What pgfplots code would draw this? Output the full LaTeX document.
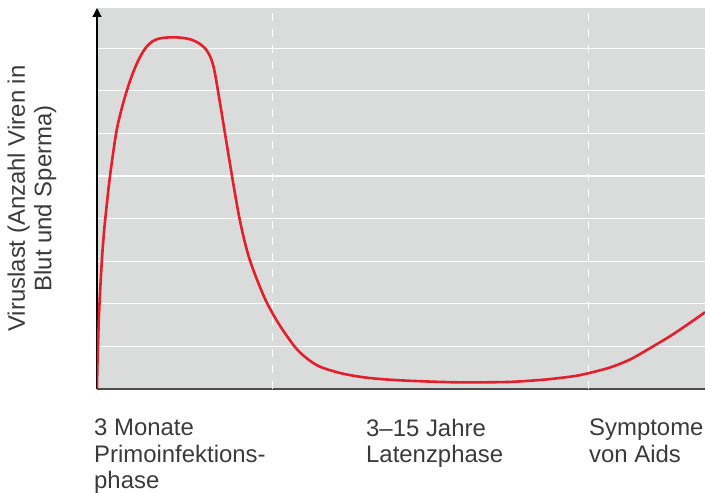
\documentclass[border=0pt]{standalone}
\usepackage{fontspec}
\setmainfont{Liberation Sans}
\usepackage{pgfplots}
\pgfplotsset{compat=1.18}
\usetikzlibrary{arrows.meta}
\definecolor{bggray}{HTML}{DADBDB}
\definecolor{curvered}{HTML}{E41E2B}
\definecolor{txt}{HTML}{3A3A3A}
\newcommand\lblfont{\fontsize{24}{26.5}\selectfont}
\begin{document}
\begin{tikzpicture}
\path[use as bounding box] (-97bp,-104bp) rectangle (608bp,389bp);
\begin{axis}[
  at={(0,0)}, anchor=south west,
  scale only axis, width=608bp, height=381bp,
  xmin=0, xmax=608, ymin=0, ymax=381,
  axis x line*=bottom, axis y line*=left,
  x axis line style={draw=black!70, line width=1.2bp, -},
  y axis line style={draw=black, line width=1.2bp, -{Triangle[width=9bp,length=9bp]}},
  axis background/.style={fill=bggray},
  ytick={42.6,85.2,127.8,170.4,213,255.6,298.2,340.8},
  yticklabels={},
  ymajorgrids,
  major grid style={white, line width=1.3bp},
  xtick={0,272,495},
  xticklabels={{3 Monate\\Primoinfektions-\\phase},{3–15 Jahre\\Latenzphase},{Symptome\\von Aids}},
  xticklabel style={anchor=north west, align=left, inner sep=0pt, xshift=-3bp, yshift=-30bp, font=\lblfont, text=txt},
  major tick length=0pt,
  tick style={draw=none},
  ylabel={Viruslast (Anzahl Viren in\\Blut und Sperma)},
  ylabel style={at={(axis description cs:-0.107,0.5)}, anchor=center, align=center, font=\lblfont, text=txt, inner sep=0pt},
  clip=true,
]
\draw[white, line width=1.3bp, dash pattern=on 8bp off 8bp] (axis cs:175.5,0) -- (axis cs:175.5,381);
\draw[white, line width=1.3bp, dash pattern=on 8bp off 8bp] (axis cs:491.5,0) -- (axis cs:491.5,381);
\addplot[curvered, line width=2.6bp, smooth] coordinates {
(0,0) (0.3,19) (1,44) (2,74) (3.3,101) (5,131) (7,157) (9,177) (13,213) (19,255)
(23.8,277) (29.7,298) (34,310.8) (38,321.2) (42,330) (46,337.2) (50,342.8)
(55,347.3) (60,349.8) (66,351.1) (72,351.6) (77,351.7)
(84,351.3) (90,350.4) (95,349.1) (100,346.9) (104,344.3) (108,340.7) (111,336.5)
(114,330.5) (116.5,322.5) (118.8,311) (121,298) (124.5,277) (128,255.5)
(131.5,234) (135,213) (138.4,193) (142,173) (146.8,151) (152.5,130)
(160.5,108) (170,86) (182.5,64) (198,42) (210,30.5) (223,22.3)
(243,16) (263,12.2) (283,10) (313,8.2) (360,6.7) (410,7) (443,9) (460,10.7)
(478,13) (491,15.7) (513,21.5) (533,29.5) (555,42) (578,56) (608,76.7)
};
\end{axis}
\end{tikzpicture}
\end{document}
